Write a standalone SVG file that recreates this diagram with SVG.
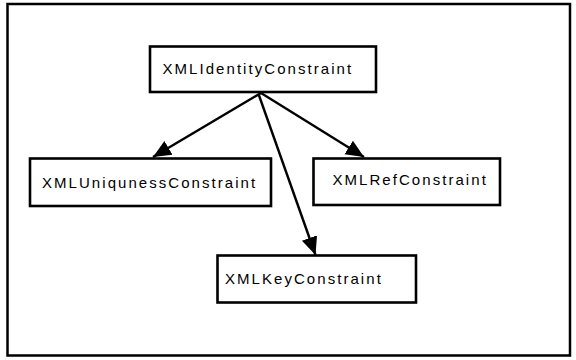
<svg xmlns="http://www.w3.org/2000/svg" width="576" height="360" viewBox="0 0 576 360">
<style>
.box{fill:#fff;stroke:#000;stroke-width:2.6}
.lbl{font-family:"Liberation Sans",Arial,sans-serif;font-size:15px;letter-spacing:2.05px;fill:#000}
.edge{fill:none;stroke:#000;stroke-width:2.4}
</style>
<defs>
<marker id="ah" markerUnits="userSpaceOnUse" markerWidth="22" markerHeight="22" viewBox="0 0 22 22" refX="18" refY="11" orient="auto">
<path d="M0,3 L18,11 L0,19 Z" fill="#000"/>
</marker>
</defs>
<rect x="7.5" y="4" width="562.5" height="351.5" fill="#fff" stroke="#000" stroke-width="2.5"/>
<g id="connectors">
<line class="edge" x1="261" y1="93" x2="153" y2="157" marker-end="url(#ah)"/>
<line class="edge" x1="261" y1="93" x2="364" y2="157" marker-end="url(#ah)"/>
<line class="edge" x1="258.5" y1="94" x2="315.5" y2="255" marker-end="url(#ah)"/>
</g>
<g id="XMLIdentityConstraint">
<rect class="box" x="150" y="46.5" width="226" height="45.5"/>
<text class="lbl" x="162.5" y="73.5">XMLIdentityConstraint</text>
</g>
<g id="XMLUniqunessConstraint">
<rect class="box" x="30" y="158.5" width="241" height="47.5"/>
<text class="lbl" x="42" y="188">XMLUniqunessConstraint</text>
</g>
<g id="XMLRefConstraint">
<rect class="box" x="313.5" y="158.5" width="186.5" height="46.5"/>
<text class="lbl" x="332.5" y="185">XMLRefConstraint</text>
</g>
<g id="XMLKeyConstraint">
<rect class="box" x="217.5" y="255.5" width="198.5" height="47"/>
<text class="lbl" x="225" y="283.5">XMLKeyConstraint</text>
</g>
</svg>
